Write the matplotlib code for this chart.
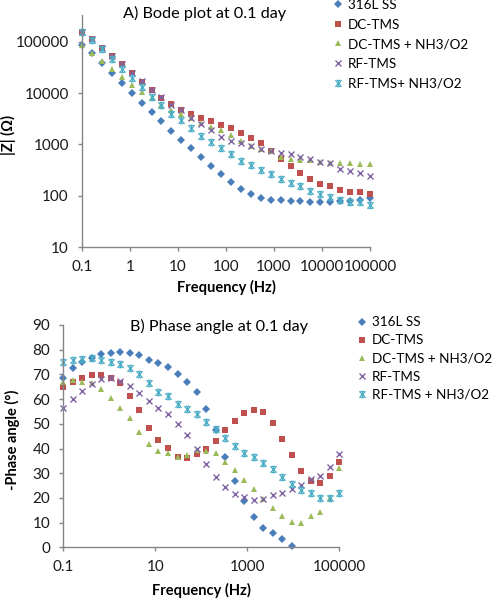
import numpy as np
import matplotlib
matplotlib.use("Agg")
import matplotlib.pyplot as plt
from matplotlib.path import Path

plt.rcParams['font.family'] = ['Lato', 'DejaVu Sans']

# ---------------- data ----------------
freq = [0.1, 0.161, 0.2593, 0.4175, 0.6723, 1.083, 1.743, 2.807, 4.520, 7.279,
        11.72, 18.87, 30.39, 48.94, 78.80, 126.9, 204.3, 329.0, 529.8, 853.1,
        1374, 2212, 3562, 5736, 9237, 14874, 23951, 38567, 62103, 100000]

labels_a = ["316L SS", "DC-TMS", "DC-TMS + NH3/O2", "RF-TMS", "RF-TMS+ NH3/O2"]
labels_b = ["316L SS", "DC-TMS", "DC-TMS + NH3/O2", "RF-TMS", "RF-TMS + NH3/O2"]

# |Z| (ohm)
z_ss = [85000, 60000, 38000, 24300, 15500, 10200, 6500, 4230, 2900, 1860,
        1225, 843, 580, 382, 267, 187, 134, 107, 90, 83,
        83, 79, 78, 77, 76, 76, 78, 80, 84, 92]
z_dc = [152000, 111000, 76000, 53500, 36300, 24300, 16700, 11500, 7940, 6140,
        4690, 3920, 3320, 2900, 2400, 2070, 1650, 1357, 1055, 740,
        530, 385, 280, 210, 173, 153, 130, 118, 118, 107]
z_dcn = [86000, 59400, 42100, 29000, 20800, 14400, 10640, 7940, 5860, 4690,
         3870, 3240, 2585, 2220, 1915, 1530, 1185, 935, 807, 750,
         560, 530, 500, 490, 460, 435, 430, 430, 425, 410]
z_rf = [152000, 111000, 76000, 53500, 36300, 24900, 17200, 11500, 8270, 5860,
        4690, 3240, 2470, 1915, 1420, 1185, 1055, 935, 807, 740,
        690, 650, 580, 520, 460, 430, 335, 310, 280, 244]
z_rfn = [152000, 108000, 71100, 46000, 29000, 19400, 13300, 8510, 5860, 3920,
         3000, 2070, 1460, 1130, 843, 653, 484, 398, 319, 263,
         210, 181, 156, 126, 107, 94, 83, 77, 75, 68]

# -phase angle (deg)
p_ss = [68.4, 72.5, 74.9, 76.5, 78.3, 78.8, 79.2, 78.8, 77.9, 75.8,
        74.5, 72.9, 70.0, 67.0, 62.8, 56.0, 47.5, 36.7, 27.0, 18.9,
        12.4, 7.9, 5.7, 3.2, 0.5, np.nan, np.nan, np.nan, np.nan, np.nan]
p_dc = [64.8, 67.0, 68.7, 69.8, 69.8, 68.7, 66.4, 61.4, 55.6, 48.2,
        43.4, 40.1, 36.7, 36.0, 37.6, 39.7, 43.0, 47.5, 51.3, 54.3,
        55.6, 54.7, 50.2, 43.8, 37.4, 31.0, 26.8, 26.2, 28.9, 34.4]
p_dcn = [67.0, 67.7, 67.0, 66.4, 64.0, 60.3, 56.5, 52.2, 46.8, 41.8,
         39.1, 38.1, 36.7, 37.4, 39.4, 39.0, 38.3, 34.7, 31.3, 27.2,
         23.5, 19.5, 16.0, 12.8, 10.2, 9.7, 12.8, 14.2, 20.0, 32.0]
p_rf = [56.3, 60.0, 63.4, 66.1, 68.0, 68.4, 67.4, 65.4, 62.6, 59.2,
        56.3, 53.8, 49.9, 45.5, 39.7, 33.7, 28.6, 24.5, 21.6, 20.3,
        19.1, 19.5, 21.2, 22.1, 23.5, 25.2, 27.6, 29.0, 32.4, 37.8]
p_rfn = [74.9, 75.8, 76.1, 76.5, 75.8, 75.1, 74.1, 72.5, 70.0, 66.6,
         63.0, 61.3, 57.9, 56.0, 54.0, 50.6, 47.8, 44.1, 41.1, 38.3,
         36.4, 34.0, 31.6, 28.6, 25.6, 23.2, 21.9, 19.8, 20.1, 22.1]

# ---------------- styles ----------------
# Excel-like "star" marker: X with a vertical bar and caps
star = Path([(-1, -1), (1, 1), (-1, 1), (1, -1), (0, -1), (0, 1),
             (-0.6, 1), (0.6, 1), (-0.6, -1), (0.6, -1)],
            [Path.MOVETO, Path.LINETO, Path.MOVETO, Path.LINETO,
             Path.MOVETO, Path.LINETO, Path.MOVETO, Path.LINETO,
             Path.MOVETO, Path.LINETO])

styles = [
    dict(marker='D', color='#4A7EBB', ms=4.0, mew=0),
    dict(marker='s', color='#C0504D', ms=4.3, mew=0),
    dict(marker='^', color='#9BBB59', ms=5.0, mew=0),
    dict(marker='x', color='#8064A2', ms=5.0, mew=1.0),
    dict(marker=star, color='#4BACC6', ms=4.5, mew=0.9),
]

W, H = 493, 600
fig = plt.figure(figsize=(W / 100, H / 100), dpi=100)
spine_c = '#868686'
fs_tick = 11
fs_lab = 10.5
fs_leg = 9.7
fs_title = 11.7


def frac(x0, y0, x1, y1):
    # pixel box -> figure fraction rect
    return [x0 / W, 1 - y1 / H, (x1 - x0) / W, (y1 - y0) / H]


def style_axes(ax):
    for s in ['top', 'right']:
        ax.spines[s].set_visible(False)
    for s in ['left', 'bottom']:
        ax.spines[s].set_color(spine_c)
        ax.spines[s].set_linewidth(1.0)
    ax.tick_params(which='major', direction='out', length=3, width=1.0,
                   color=spine_c, labelsize=fs_tick, labelcolor='#1a1a1a')
    ax.tick_params(axis='x', pad=6.5)
    ax.tick_params(axis='y', pad=6.5)
    ax.tick_params(which='minor', length=0)


def plot_series(ax, ys, labels):
    for y, st, lab in zip(ys, styles, labels):
        ax.plot(freq, y, linestyle='none', marker=st['marker'], color=st['color'],
                markersize=st['ms'], markeredgewidth=st['mew'],
                markeredgecolor=st['color'], label=lab, clip_on=False)


def add_legend(ax, left_px, top_px, spacing):
    h, l = ax.get_legend_handles_labels()
    fig.legend(h, l, loc='upper left', bbox_to_anchor=(left_px / W, 1 - top_px / H),
               frameon=False, fontsize=fs_leg, handlelength=0.8, handletextpad=0.32,
               labelspacing=spacing, borderpad=0.2, borderaxespad=0)


# ---------------- A) Bode plot ----------------
ax1 = fig.add_axes(frac(82, 15, 370, 247.3))
plot_series(ax1, [z_ss, z_dc, z_dcn, z_rf, z_rfn], labels_a)
ax1.set_xscale('log')
ax1.set_yscale('log')
ax1.set_xlim(0.1, 100000)
ax1.set_ylim(10, 3.3e5)
ax1.set_xticks([0.1, 1, 10, 100, 1000, 10000, 100000])
ax1.set_xticklabels(['0.1', '1', '10', '100', '1000', '10000', '100000'])
ax1.set_yticks([10, 100, 1000, 10000, 100000])
ax1.set_yticklabels(['10', '100', '1000', '10000', '100000'])
style_axes(ax1)
ax1.set_xlabel('Frequency (Hz)', fontsize=fs_lab, fontweight='bold', labelpad=4)
fig.text(8 / W, 1 - 135 / H, '|Z| (\u03a9)', rotation=90, fontsize=fs_lab,
         fontweight='bold', ha='center', va='center')
fig.text(123 / W, 1 - 13 / H, 'A) Bode plot at 0.1 day', fontsize=fs_title,
         ha='left', va='center')
add_legend(ax1, 330, -3.6, 0.56)

# ---------------- B) Phase angle ----------------
ax2 = fig.add_axes(frac(63.3, 325, 339.3, 547.3))
plot_series(ax2, [p_ss, p_dc, p_dcn, p_rf, p_rfn], labels_b)
ax2.set_xscale('log')
ax2.set_xlim(0.1, 100000)
ax2.set_ylim(0, 90)
ax2.set_xticks([0.1, 10, 1000, 100000])
ax2.set_xticklabels(['0.1', '10', '1000', '100000'])
ax2.set_yticks(np.arange(0, 91, 10))
style_axes(ax2)
ax2.set_xlabel('Frequency (Hz)', fontsize=fs_lab, fontweight='bold', labelpad=6)
fig.text(12 / W, 1 - 440 / H, '-Phase angle (\u00b0)', rotation=90, fontsize=fs_lab,
         fontweight='bold', ha='center', va='center')
fig.text(130 / W, 1 - 326 / H, 'B) Phase angle at 0.1 day', fontsize=fs_title,
         ha='left', va='center')
add_legend(ax2, 354, 313.7, 0.45)

fig.savefig('out.png', dpi=100)
